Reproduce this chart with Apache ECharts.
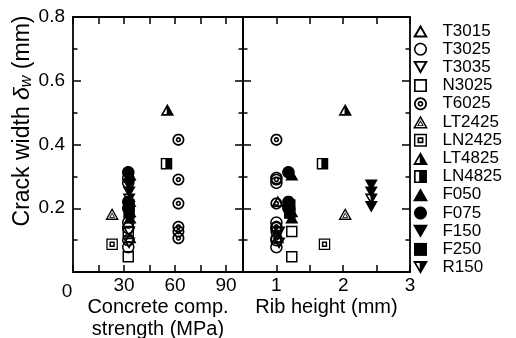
<!DOCTYPE html>
<html><head><meta charset="utf-8">
<script src="https://cdn.jsdelivr.net/npm/echarts@6/dist/echarts.min.js"></script>
<style>html,body{margin:0;padding:0;background:#fff}#c{width:516px;height:338px}</style>
</head><body><div id="c"></div>
<script>
// ---------------- DATA ----------------
const seriesNames = ['T3015','T3025','T3035','N3025','T6025','LT2425','LN2425','LT4825','LN4825','F050','F075','F150','F250','R150'];
// concrete compressive strength (MPa)
const fc_T3015 = [33.5, 33.5];
const fc_T3025 = [32.5, 32.5, 32.5, 32.5, 32.5, 32.5];
const fc_T3035 = [33, 33];
const fc_N3025 = [32.5, 32.5];
const fc_T6025 = [62, 62, 62, 62, 62, 62];
const fc_LT2425 = [23];
const fc_LN2425 = [23];
const fc_LT4825 = [55.5];
const fc_LN4825 = [55];
const fc_F050 = [33.5, 33.5, 33.5];
const fc_F075 = [32.5, 32.5, 32.5];
const fc_F150 = [33, 33, 33];
const fc_F250 = [33, 33];
const fc_R150 = [33];
// rib height (mm)
const h_T3015 = [1.02, 1.02];
const h_T3025 = [1.0, 1.0, 1.0, 1.0, 1.0, 1.0];
const h_T3035 = [1.04, 1.04];
const h_N3025 = [1.23, 1.23];
const h_T6025 = [1.0, 1.0, 1.0, 1.0, 1.0, 1.0];
const h_LT2425 = [2.03];
const h_LN2425 = [1.72];
const h_LT4825 = [2.03];
const h_LN4825 = [1.69];
const h_F050 = [1.23, 1.23, 1.23];
const h_F075 = [1.18, 1.18, 1.18];
const h_F150 = [2.42, 2.42, 2.42];
const h_F250 = [1.2, 1.2];
const h_R150 = [2.42];
// crack width (mm)
const w_T3015 = [0.222, 0.108];
const w_T3025 = [0.295, 0.28, 0.155, 0.138, 0.10, 0.078];
const w_T3035 = [0.125, 0.09];
const w_N3025 = [0.127, 0.048];
const w_T6025 = [0.415, 0.29, 0.215, 0.142, 0.127, 0.106];
const w_LT2425 = [0.182];
const w_LN2425 = [0.087];
const w_LT4825 = [0.509];
const w_LN4825 = [0.34];
const w_F050 = [0.305, 0.19, 0.17];
const w_F075 = [0.313, 0.22, 0.2];
const w_F150 = [0.272, 0.25, 0.205];
const w_F250 = [0.21, 0.185];
const w_R150 = [0.228];
// axis ticks
const fcTickLabels = [0, 30, 60, 90];
const ribTickLabels = [1, 2, 3];
const crackTickLabels = [0.2, 0.4, 0.6, 0.8];

const DATA = {
  T3015:[fc_T3015,h_T3015,w_T3015], T3025:[fc_T3025,h_T3025,w_T3025], T3035:[fc_T3035,h_T3035,w_T3035],
  N3025:[fc_N3025,h_N3025,w_N3025], T6025:[fc_T6025,h_T6025,w_T6025], LT2425:[fc_LT2425,h_LT2425,w_LT2425],
  LN2425:[fc_LN2425,h_LN2425,w_LN2425], LT4825:[fc_LT4825,h_LT4825,w_LT4825], LN4825:[fc_LN4825,h_LN4825,w_LN4825],
  F050:[fc_F050,h_F050,w_F050], F075:[fc_F075,h_F075,w_F075], F150:[fc_F150,h_F150,w_F150],
  F250:[fc_F250,h_F250,w_F250], R150:[fc_R150,h_R150,w_R150]
};

// ---------------- SYMBOL SHAPES ----------------
function area(p){let s=0;for(let i=0;i<p.length;i++){const a=p[i],b=p[(i+1)%p.length];s+=a[0]*b[1]-b[0]*a[1];}return s;}
function sub(p, hole){ if((area(p)>0)===hole) p=p.slice().reverse(); return 'M'+p.map(q=>q[0].toFixed(2)+','+q[1].toFixed(2)).join(' L')+' Z'; }
function circ(cx,cy,r,n){n=n||40;const p=[];for(let i=0;i<n;i++){const t=2*Math.PI*i/n;p.push([cx+r*Math.cos(t),cy+r*Math.sin(t)]);}return p;}
function triInset(p,d){ // homothety about incenter
  const [A,B,C]=p; const L=(u,v)=>Math.hypot(u[0]-v[0],u[1]-v[1]);
  const a=L(B,C),b=L(C,A),c=L(A,B),s=a+b+c;
  const I=[(a*A[0]+b*B[0]+c*C[0])/s,(a*A[1]+b*B[1]+c*C[1])/s];
  const r=Math.abs(area(p))/s; const k=(r-d)/r;
  return p.map(q=>[I[0]+(q[0]-I[0])*k,I[1]+(q[1]-I[1])*k]);
}
function sq(a,b){return [[a,a],[b,a],[b,b],[a,b]];}
const TU=[[50,0],[100,87],[0,87]];
const TD=[[0,0],[100,0],[50,87]];
const P=(...s)=>'path://'+s.join(' ');
const triHalfUp=(function(){const t=triInset(TU,12);const x=45;const A=t[0],C=t[2];const k=(A[0]-x)/(A[0]-C[0]);return [[x,A[1]+k*(C[1]-A[1])],[C[0],C[1]],[x,C[1]]];})();
const triHalfDown=(function(){const t=triInset(TD,12);const x=45;const A=t[0],C=t[2];const k=(x-A[0])/(C[0]-A[0]);return [[A[0],A[1]],[x,A[1]],[x,A[1]+k*(C[1]-A[1])]];})();
const SHAPES = {
  T3015: {path:P(sub(TU,false),sub(triInset(TU,13),true)), size:[13,11.5]},
  T3025: {path:P(sub(circ(50,50,50),false),sub(circ(50,50,38),true)), size:12.5},
  T3035: {path:P(sub(TD,false),sub(triInset(TD,13),true)), size:[13,11.5]},
  N3025: {path:P(sub(sq(0,100),false),sub(sq(13,87),true)), size:11.5},
  T6025: {path:P(sub(circ(50,50,50),false),sub(circ(50,50,36),true),sub(circ(50,50,22),false),sub(circ(50,50,9),true)), size:12},
  LT2425:{path:P(sub(TU,false),sub(triInset(TU,10),true),sub(triInset(TU,16),false),sub(triInset(TU,22),true)), size:[13.5,12]},
  LN2425:{path:P(sub(sq(0,100),false),sub(sq(11,89),true),sub(sq(27,73),false),sub(sq(40,60),true)), size:11.5},
  LT4825:{path:P(sub(TU,false),sub(triHalfUp,true)), size:[13.5,12]},
  LN4825:{path:P(sub(sq(0,100),false),sub([[13,13],[40,13],[40,87],[13,87]],true)), size:11.5},
  F050:  {path:P(sub(TU,false)), size:[13,11.5]},
  F075:  {path:P(sub(circ(50,50,50),false)), size:12.5},
  F150:  {path:P(sub(TD,false)), size:[13,11.5]},
  F250:  {path:P(sub(sq(0,100),false)), size:11.5},
  R150:  {path:P(sub(TD,false),sub(triHalfDown,true)), size:[13,11.5]}
};

// ---------------- CHART ----------------
const FONT = '"Liberation Sans", Arial, sans-serif';
const LW = 1.8;
const gridTop = 17, gridH = 255;
const drawOrder = ['F150','R150','F250','F075','F050','LN4825','LT4825','LN2425','LT2425','T6025','N3025','T3035','T3025','T3015'];

function xAxisCfg(gi, pos, min, max, interval, fmt, name, nameGap){
  return {
    gridIndex: gi, type:'value', position: pos, min, max, interval,
    axisLine:{show:true, onZero:false, lineStyle:{color:'#000', width:LW}},
    axisTick:{show:true, inside:true, length:7, lineStyle:{color:'#000', width:1.5}},
    axisLabel: fmt ? {show:true, margin:4, color:'#000', fontFamily:FONT, fontSize:19, formatter:fmt,
      rich:{z:{fontFamily:FONT, fontSize:19, color:'#000', padding:[6,12,0,0]}}} : {show:false},
    splitLine:{show:false},
    name: name || '', nameLocation:'middle', nameGap: nameGap || 0, nameMoveOverlap:false,
    nameTextStyle:{fontFamily:FONT, fontSize:20, lineHeight:22, color:'#000', verticalAlign:'top'}
  };
}
function yAxisCfg(gi, pos, showLabel, withName){
  const c = {
    gridIndex: gi, type:'value', position: pos, min:0, max:0.8, interval:0.2,
    axisLine:{show:true, onZero:false, lineStyle:{color:'#000', width:LW}},
    axisTick:{show:true, inside:true, length:8, lineStyle:{color:'#000', width:1.5}},
    minorTick:{show:true, splitNumber:2, length:4.5, lineStyle:{color:'#000', width:1.5}},
    axisLabel: showLabel ? {show:true, margin:8, color:'#000', fontFamily:FONT, fontSize:19,
      formatter: v => crackTickLabels.some(t=>Math.abs(t-v)<1e-9) ? v.toFixed(1) : ''} : {show:false},
    splitLine:{show:false}, minorSplitLine:{show:false}, nameMoveOverlap:false
  };
  if (withName) {
    c.name = '{m|Crack width }{d|δ}{s|w}{m| (mm)}';
    c.nameLocation = 'middle';
    c.nameGap = 38;
    c.nameTextStyle = {fontFamily:FONT, fontSize:23, color:'#000', padding:[0,0,0,47],
      rich:{
        m:{fontFamily:FONT, fontSize:23, color:'#000'},
        d:{fontFamily:FONT, fontSize:23, fontStyle:'italic', color:'#000'},
        s:{fontFamily:FONT, fontSize:16, fontStyle:'italic', color:'#000', padding:[9,0,0,0]}
      }};
  }
  return c;
}
const fcFmt = v => v === 0 ? '{z|0}' : (fcTickLabels.indexOf(v) >= 0 ? String(v) : '');
const ribFmt = v => ribTickLabels.some(t=>Math.abs(t-v)<1e-9) ? String(Math.round(v)) : '';

const series = [];
[0,1].forEach(gi => {
  drawOrder.forEach(n => {
    const [fc, h, w] = DATA[n];
    const xs = gi === 0 ? fc : h;
    series.push({
      type:'scatter', name:n, xAxisIndex:gi, yAxisIndex:gi,
      data: xs.map((x,i)=>[x, w[i]]),
      symbol: SHAPES[n].path, symbolSize: SHAPES[n].size,
      itemStyle:{color:'#000', opacity:1, borderWidth:0},
      emphasis:{disabled:true}, silent:true, animation:false
    });
  });
});

const chart = echarts.init(document.getElementById('c'), null, {renderer:'canvas'});
chart.setOption({
  backgroundColor:'#fff',
  animation:false,
  grid:[
    {left:73, top:gridTop, width:170, height:gridH, containLabel:false, outerBoundsMode:'none'},
    {left:243, top:gridTop, width:167, height:gridH, containLabel:false, outerBoundsMode:'none'}
  ],
  xAxis:[
    xAxisCfg(0,'bottom',0,100,15,fcFmt,'Concrete comp.\nstrength (MPa)',24.5),
    xAxisCfg(1,'bottom',0.5,3,0.5,ribFmt,'Rib height (mm)',24.5),
    xAxisCfg(0,'top',0,100,15,null),
    xAxisCfg(1,'top',0.5,3,0.5,null)
  ],
  yAxis:[
    yAxisCfg(0,'left',true,true),
    yAxisCfg(1,'left',false,false),
    yAxisCfg(0,'right',false,false),
    yAxisCfg(1,'right',false,false)
  ],
  legend:{
    orient:'vertical', left:408, top:17.5, itemWidth:34, itemHeight:13, itemGap:1.2,
    selectedMode:false,
    textStyle:{fontFamily:FONT, fontSize:17, lineHeight:17, color:'#000'},
    itemStyle:{borderWidth:0},
    data: seriesNames
  },
  series
});
</script></body></html>
